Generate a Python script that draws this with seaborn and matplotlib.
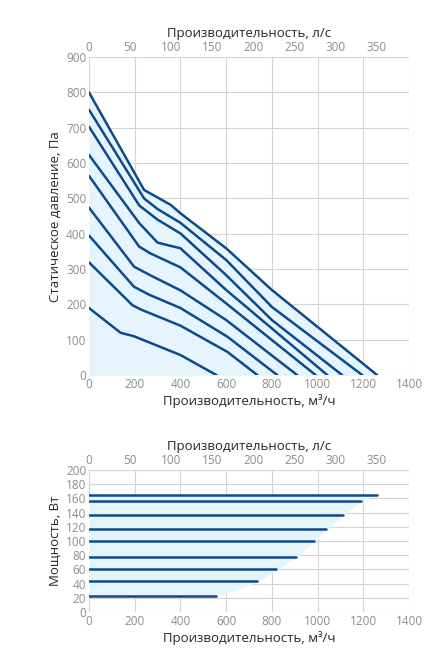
import matplotlib
matplotlib.use("Agg")
import matplotlib.pyplot as plt
import seaborn as sns
import pandas as pd

# Pressure curves: (flow m3/h, pressure Pa)
c1_x = [0, 138, 197, 400, 558]; c1_y = [190, 120, 110, 57, 0]
c2_x = [0, 190, 226, 400, 605, 737]; c2_y = [319, 198, 186, 140, 66, 0]
c3_x = [0, 197, 262, 400, 605, 824]; c3_y = [395, 250, 228, 190, 109, 0]
c4_x = [0, 197, 267, 400, 600, 911]; c4_y = [474, 307, 283, 240, 156, 0]
c5_x = [0, 219, 267, 400, 600, 992]; c5_y = [564, 364, 345, 305, 203, 0]
c6_x = [0, 220, 300, 400, 600, 1043]; c6_y = [623, 430, 375, 359, 241, 0]
c7_x = [0, 220, 300, 400, 600, 800, 1108]; c7_y = [703, 480, 440, 401, 283, 156, 0]
c8_x = [0, 241, 300, 400, 600, 800, 1196]; c8_y = [751, 500, 470, 431, 326, 193, 0]
c9_x = [0, 241, 357, 400, 600, 800, 1261]; c9_y = [800, 524, 482, 458, 359, 241, 0]
curves = [(c1_x, c1_y), (c2_x, c2_y), (c3_x, c3_y), (c4_x, c4_y), (c5_x, c5_y),
          (c6_x, c6_y), (c7_x, c7_y), (c8_x, c8_y), (c9_x, c9_y)]

# Power lines: level W, max flow m3/h
power_levels = [22, 43, 60, 78, 100, 117, 137, 157, 165]
power_max_flow = [555, 735, 820, 905, 985, 1035, 1110, 1190, 1260]

line_color = "#0d4a8c"
fill_color = "#e6f5fd"

sns.set_style("whitegrid", {"grid.color": "#d4d4d4", "axes.edgecolor": "#d4d4d4"})
plt.rcParams['font.family'] = ['Open Sans', 'DejaVu Sans']

fig = plt.figure(figsize=(4.46, 6.64), dpi=100)
ax1 = fig.add_axes([0.1996, 0.435, 0.7175, 0.479])
ax2 = fig.add_axes([0.1996, 0.0783, 0.7175, 0.2139])

tick_kw = dict(labelsize=8.5, labelcolor="#8c8c8c", length=0, pad=2)

# top chart
ax1.fill_between(c9_x, 0, c9_y, color=fill_color, zorder=1)
for xs, ys in curves:
    df = pd.DataFrame({"x": xs, "y": ys})
    sns.lineplot(data=df, x="x", y="y", ax=ax1, color=line_color, lw=1.8, sort=False, zorder=3)
ax1.set_xlim(0, 1400); ax1.set_ylim(0, 900)
ax1.set_xticks(range(0, 1401, 200)); ax1.set_yticks(range(0, 901, 100))
ax1.set_xlabel("Производительность, м³/ч", fontsize=9.5, labelpad=2)
ax1.set_ylabel("Статическое давление, Па", fontsize=9.5, labelpad=3)

# bottom chart
ax2.fill_betweenx(power_levels, 0, power_max_flow, color=fill_color, zorder=1)
for lvl, mx in zip(power_levels, power_max_flow):
    df = pd.DataFrame({"x": [0, mx], "y": [lvl, lvl]})
    sns.lineplot(data=df, x="x", y="y", ax=ax2, color=line_color, lw=1.8, zorder=3)
ax2.set_xlim(0, 1400); ax2.set_ylim(0, 200)
ax2.set_xticks(range(0, 1401, 200)); ax2.set_yticks(range(0, 201, 20))
ax2.set_xlabel("Производительность, м³/ч", fontsize=9.5, labelpad=2)
ax2.set_ylabel("Мощность, Вт", fontsize=9.5, labelpad=3)

for ax in (ax1, ax2):
    ax.tick_params(**tick_kw)
    for s in ax.spines.values():
        s.set_visible(False)
    sec = ax.secondary_xaxis('top', functions=(lambda v: v / 3.6, lambda v: v * 3.6))
    sec.set_xticks(range(0, 351, 50))
    sec.tick_params(**tick_kw)
    sec.spines['top'].set_visible(False)
    sec.set_xlabel("Производительность, л/с", fontsize=9.5, labelpad=3)

fig.savefig("out.png", dpi=100)
